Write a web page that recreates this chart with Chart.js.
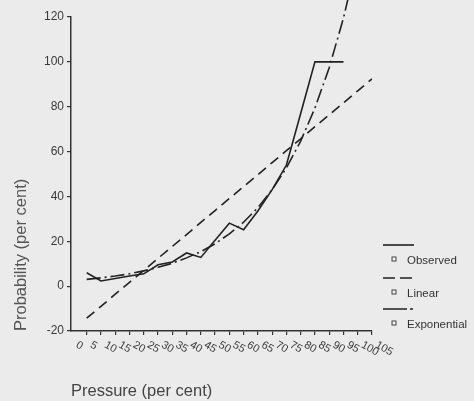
<!DOCTYPE html>
<html>
<head>
<meta charset="utf-8">
<script src="https://cdn.jsdelivr.net/npm/chart.js@4"></script>
<style>
  html, body { margin: 0; padding: 0; background: #ebebeb; }
  canvas { display: block; }
</style>
</head>
<body>
<canvas id="chart" width="474" height="401"></canvas>
<script>
// Pressure steps (per cent) and the three probability series
const pressure = [0, 5, 10, 15, 20, 25, 30, 35, 40, 45, 50, 55, 60, 65, 70, 75, 80, 85, 90, 95, 100];
const pressureTicks = ['0', '5', '10', '15', '20', '25', '30', '35', '40', '45', '50', '55', '60', '65', '70', '75', '80', '85', '90', '95', '100', '105'];
const observed = [6.0, 2.3, 3.4, 4.5, 5.5, 9.5, 10.8, 14.8, 12.8, 20.5, 28.1, 25.1, 33.5, 43.0, 54.0, 77.0, 100, 100, 100];
const linear = [-14.3, -9.0, -3.6, 1.7, 7.0, 12.4, 17.7, 23.0, 28.4, 33.7, 39.1, 44.4, 49.7, 55.1, 60.4, 65.7, 71.1, 76.4, 81.7, 87.1, 92.4];
const exponential = [3.0, 3.7, 4.5, 5.5, 6.8, 8.4, 10.2, 12.6, 15.4, 18.9, 23.3, 28.5, 35.0, 43.0, 52.7, 64.7, 79.4, 97.4, 119.5, 146.7, 180.0];
const yTicks = [-20, 0, 20, 40, 60, 80, 100, 120];

const FONT = '"Liberation Sans", Arial, sans-serif';
const INK = '#222';

const toPoints = (vals) => vals.map((v, i) => ({ x: pressure[i], y: v }));

// x labels are drawn slanted downwards, the way the old plot printed them
const slantedTicks = {
  id: 'slantedTicks',
  afterDraw(chart) {
    const sx = chart.scales.x, ctx = chart.ctx;
    ctx.save();
    ctx.font = '11px ' + FONT;
    ctx.fillStyle = '#3a3a3a';
    ctx.textBaseline = 'middle';
    ctx.textAlign = 'left';
    pressureTicks.forEach((t) => {
      const px = sx.getPixelForValue(Number(t));
      ctx.save();
      ctx.translate(px - 10, sx.top + 13);
      ctx.rotate(Math.PI / 6);
      ctx.fillText(t, 0, 0);
      ctx.restore();
    });
    ctx.restore();
  }
};

// stacked legend on the right: line sample, then marker + name
const sideLegend = {
  id: 'sideLegend',
  afterDraw(chart) {
    const { ctx, chartArea } = chart;
    const x0 = chartArea.right + 11;
    const rows = [245, 278, 309];
    chart.data.datasets.forEach((ds, i) => {
      const y = rows[i];
      ctx.save();
      ctx.strokeStyle = ds.borderColor;
      ctx.lineWidth = ds.borderWidth;
      ctx.setLineDash(ds.legendDash || []);
      ctx.beginPath();
      ctx.moveTo(x0, y);
      ctx.lineTo(x0 + 31, y);
      ctx.stroke();
      ctx.setLineDash([]);
      ctx.lineWidth = 1;
      ctx.fillStyle = '#f2f2f2';
      ctx.fillRect(x0 + 9, y + 12, 4, 4);
      ctx.strokeStyle = '#444';
      ctx.strokeRect(x0 + 9, y + 12, 4, 4);
      ctx.font = '11.5px ' + FONT;
      ctx.fillStyle = '#333';
      ctx.textBaseline = 'middle';
      ctx.fillText(ds.label, x0 + 24, y + 16);
      ctx.restore();
    });
  }
};

new Chart(document.getElementById('chart'), {
  type: 'line',
  data: {
    datasets: [
      { label: 'Observed', data: toPoints(observed), borderColor: INK, borderWidth: 1.6, pointRadius: 0, tension: 0 },
      { label: 'Linear', data: toPoints(linear), borderColor: INK, borderWidth: 1.6, borderDash: [10, 6], legendDash: [12, 5], pointRadius: 0, tension: 0 },
      { label: 'Exponential', data: toPoints(exponential), borderColor: INK, borderWidth: 1.6, borderDash: [14, 4, 2, 4], legendDash: [24, 3, 3, 20], pointRadius: 0, tension: 0, clip: false }
    ]
  },
  options: {
    responsive: false,
    animation: false,
    devicePixelRatio: 1,
    layout: { padding: { top: 17, right: 102, left: 0, bottom: 0 } },
    plugins: { legend: { display: false }, tooltip: { enabled: false } },
    scales: {
      x: {
        type: 'linear',
        min: -5.5,
        max: 100,
        afterBuildTicks: (s) => { s.ticks = pressure.map((v) => ({ value: v })); },
        afterFit: (s) => { s.height = 70; },
        ticks: { display: false },
        grid: { drawOnChartArea: false, tickLength: 4, color: '#333', lineWidth: 1.2 },
        border: { color: '#333', width: 1.5 },
        title: { display: true, text: 'Pressure (per cent)', align: 'start', color: '#444', font: { family: FONT, size: 16.5 }, padding: { top: 0, bottom: 0 } }
      },
      y: {
        min: -20,
        max: 120,
        afterBuildTicks: (s) => { s.ticks = yTicks.map((v) => ({ value: v })); },
        afterFit: (s) => { s.width = 71; },
        ticks: { color: '#3a3a3a', font: { family: FONT, size: 12 }, padding: 3 },
        grid: { drawOnChartArea: false, tickLength: 4, color: '#333', lineWidth: 1.2 },
        border: { color: '#333', width: 1.5 },
        title: { display: true, text: 'Probability (per cent)', align: 'start', color: '#555', font: { family: FONT, size: 16.5 }, padding: { top: 12, bottom: 0 } }
      }
    }
  },
  plugins: [slantedTicks, sideLegend]
});
</script>
</body>
</html>
